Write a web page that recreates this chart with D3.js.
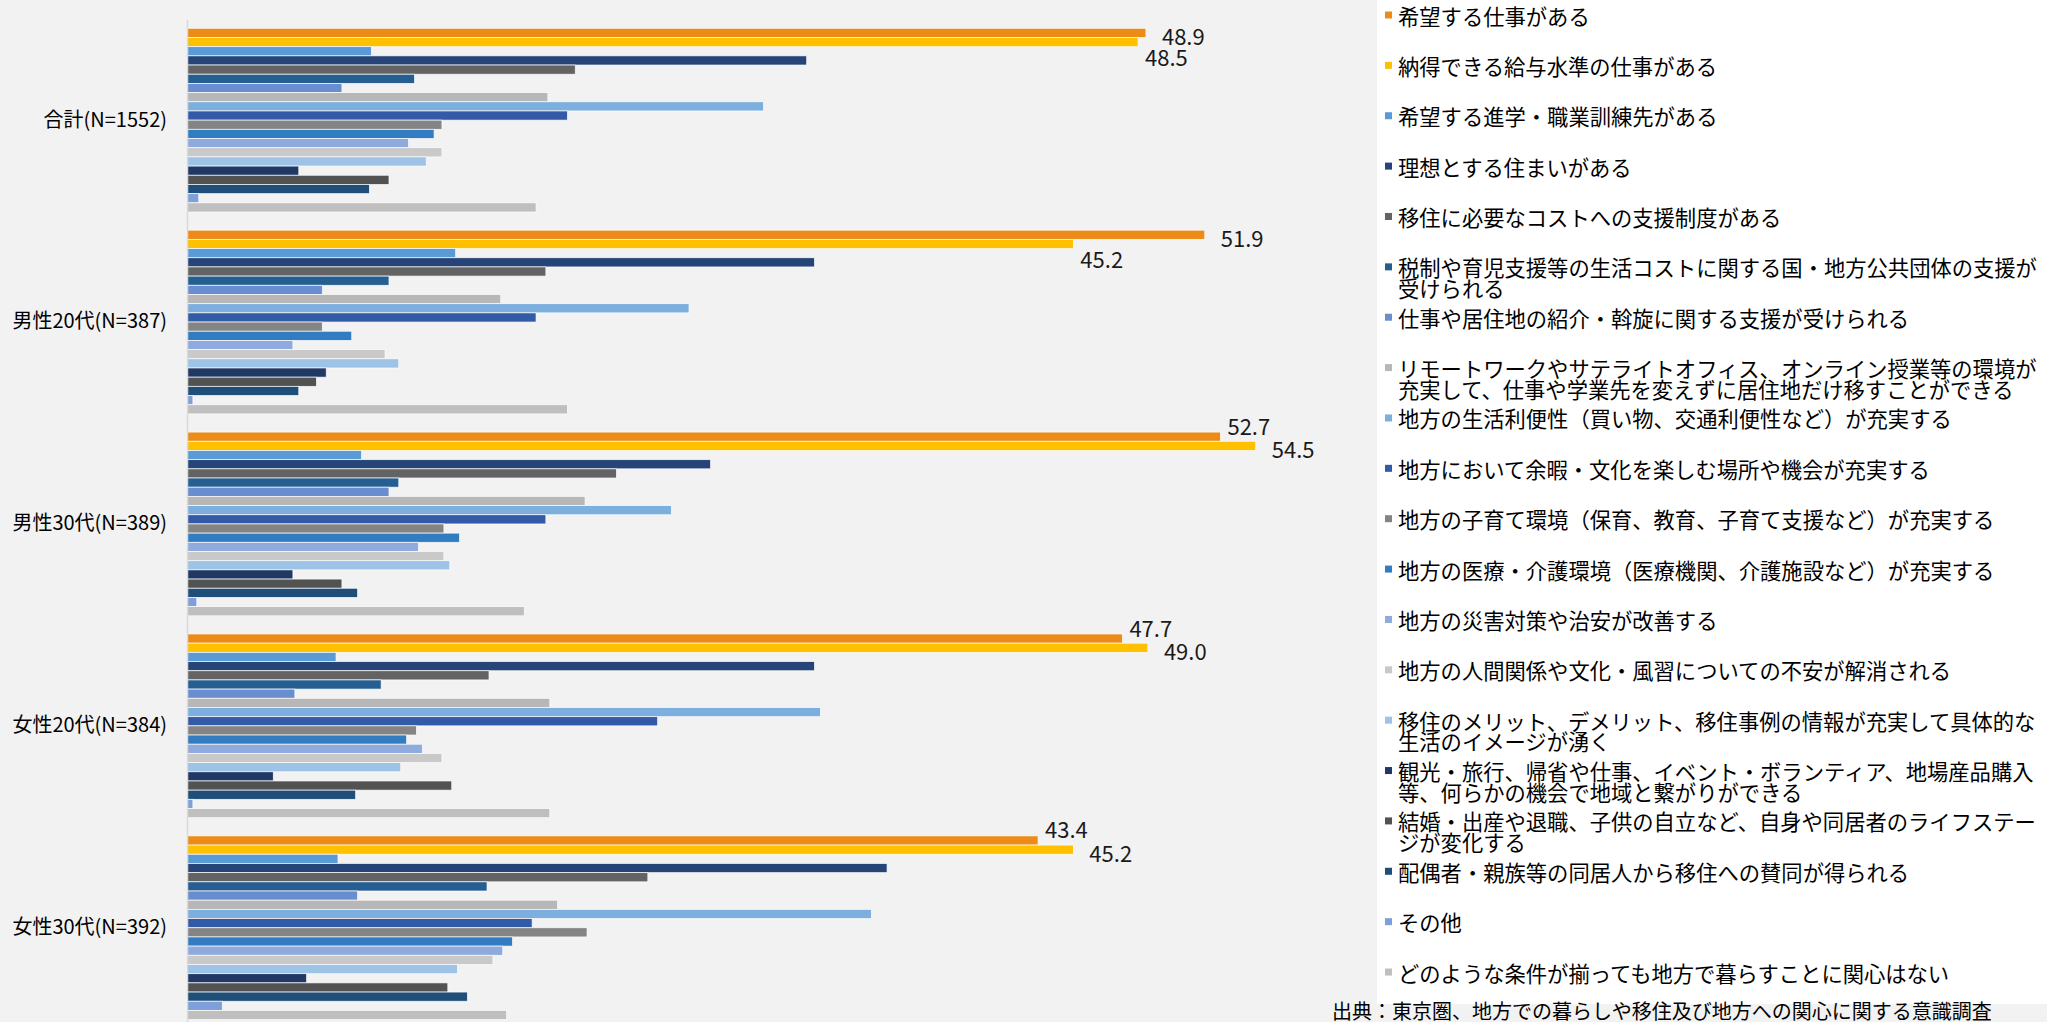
<!DOCTYPE html>
<html>
<head>
<meta charset="utf-8">
<script src="https://cdn.jsdelivr.net/npm/d3@7"></script>
<style>
html,body{margin:0;padding:0;background:#f2f2f2;overflow:hidden}
text{font-family:"Noto Sans CJK JP","Noto Sans",sans-serif}
</style>
</head>
<body>
<svg id="chart" width="2047" height="1022"></svg>
<script>
// categories (groups of bars)
const categories=["合計(N=1552)","男性20代(N=387)","男性30代(N=389)","女性20代(N=384)","女性30代(N=392)"]

// legend entries, line breaks as in the source chart
const seriesNames=[
  "希望する仕事がある",
  "納得できる給与水準の仕事がある",
  "希望する進学・職業訓練先がある",
  "理想とする住まいがある",
  "移住に必要なコストへの支援制度がある",
  "税制や育児支援等の生活コストに関する国・地方公共団体の支援が\n受けられる",
  "仕事や居住地の紹介・斡旋に関する支援が受けられる",
  "リモートワークやサテライトオフィス、オンライン授業等の環境が\n充実して、仕事や学業先を変えずに居住地だけ移すことができる",
  "地方の生活利便性（買い物、交通利便性など）が充実する",
  "地方において余暇・文化を楽しむ場所や機会が充実する",
  "地方の子育て環境（保育、教育、子育て支援など）が充実する",
  "地方の医療・介護環境（医療機関、介護施設など）が充実する",
  "地方の災害対策や治安が改善する",
  "地方の人間関係や文化・風習についての不安が解消される",
  "移住のメリット、デメリット、移住事例の情報が充実して具体的な\n生活のイメージが湧く",
  "観光・旅行、帰省や仕事、イベント・ボランティア、地場産品購入\n等、何らかの機会で地域と繋がりができる",
  "結婚・出産や退職、子供の自立など、自身や同居者のライフステー\nジが変化する",
  "配偶者・親族等の同居人から移住への賛同が得られる",
  "その他",
  "どのような条件が揃っても地方で暮らすことに関心はない"
]
const colors=["#ED8B18","#FFC000","#5B9BD5","#264478","#636363","#255E91","#698ED0","#B7B7B7","#7CAFDD","#335AA6",
              "#848484","#327DC2","#8FAADC","#C9C9C9","#9DC3E6","#203864","#525252","#1F4E79","#7F9FD9","#BFBFBF"]

// values (%) per group, in series order
const total   =[48.9,48.5, 9.4,31.6,19.8,11.6, 7.9,18.4,29.4,19.4,13.0,12.6,11.3,13.0,12.2,5.7,10.3, 9.3,0.6,17.8]
const male20s =[51.9,45.2,13.7,32.0,18.3,10.3, 6.9,16.0,25.6,17.8, 6.9, 8.4, 5.4,10.1,10.8,7.1, 6.6, 5.7,0.3,19.4]
const male30s =[52.7,54.5, 8.9,26.7,21.9,10.8,10.3,20.3,24.7,18.3,13.1,13.9,11.8,13.1,13.4,5.4, 7.9, 8.7,0.5,17.2]
const female20s=[47.7,49.0, 7.6,32.0,15.4, 9.9, 5.5,18.5,32.3,24.0,11.7,11.2,12.0,13.0,10.9,4.4,13.5, 8.6,0.3,18.5]
const female30s=[43.4,45.2, 7.7,35.7,23.5,15.3, 8.7,18.9,34.9,17.6,20.4,16.6,16.1,15.6,13.8,6.1,13.3,14.3,1.8,16.3]
const groupValues=[total,male20s,male30s,female20s,female30s]
const labelledSeries=[0,1]
const sourceText="出典：東京圏、地方での暮らしや移住及び地方への関心に関する意識調査"

const svg=d3.select("#chart")
const width=2047,height=1022

svg.append("rect").attr("width",width).attr("height",height).attr("fill","#f2f2f2")
// legend box
svg.append("rect").attr("x",1377).attr("y",0).attr("width",width-1377).attr("height",1004).attr("fill","#ffffff")

const x=d3.scaleLinear().domain([0,60]).range([187,1363.6])
const y=d3.scaleBand().domain(categories).range([19.2,1028.7]).paddingInner(0.09).paddingOuter(0.045)
const inner=d3.scaleBand().domain(d3.range(seriesNames.length)).range([0,y.bandwidth()])

const rows=categories.flatMap((c,gi)=>groupValues[gi].map((v,si)=>({cat:c,s:si,v:v})))

svg.append("g").selectAll("rect")
  .data(rows)
  .enter()
  .append("rect")
  .attr("x",x(0))
  .attr("y",d=>y(d.cat)+inner(d.s))
  .attr("width",d=>x(d.v)-x(0))
  .attr("height",inner.bandwidth())
  .attr("fill",d=>colors[d.s])
  .attr("stroke","#ffffff")
  .attr("stroke-width",0.8)
  .attr("stroke-opacity",0.85)

// category axis
const yaxis=d3.axisLeft(y).tickSize(0).tickPadding(20)
const ag=svg.append("g").attr("transform",`translate(${x(0)},0)`).call(yaxis)
ag.select(".domain").attr("stroke","#d9d9d9").attr("stroke-width",1.5)
ag.selectAll("text").attr("font-size",20).attr("fill","#000")
  .style("font-family",'"Noto Sans CJK JP",sans-serif')

// data labels on the first two series; the shorter bar's label is pushed away
const labels=[]
categories.forEach((c,gi)=>{
  const a=groupValues[gi][0],b=groupValues[gi][1]
  labelledSeries.forEach(si=>{
    const v=groupValues[gi][si]
    const longer=(si===0)?a>=b:b>a
    let dy,dx
    if(longer){dy=2;dx=16}
    else{dy=si===0?-12:14;dx=7}
    labels.push({cat:c,s:si,v:v,dx:dx,dy:dy})
  })
})
svg.append("g").selectAll("text")
  .data(labels)
  .enter()
  .append("text")
  .attr("x",d=>x(d.v)+d.dx)
  .attr("y",d=>y(d.cat)+inner(d.s)+inner.bandwidth()/2+d.dy)
  .attr("dominant-baseline","central")
  .attr("font-size",22)
  .attr("fill","#1a1a1a")
  .text(d=>d3.format(".1f")(d.v))

// legend
const legStep=50.37
const leg=svg.append("g").selectAll("g")
  .data(seriesNames)
  .enter()
  .append("g")
  .attr("transform",(d,i)=>`translate(1385,${15+i*legStep})`)
leg.append("rect")
  .attr("x",0).attr("y",-3.5)
  .attr("width",7).attr("height",7)
  .attr("fill",(d,i)=>colors[i])
leg.append("text")
  .attr("x",13)
  .attr("font-size",21.3)
  .attr("fill","#000")
  .selectAll("tspan")
  .data(d=>d.split("\n"))
  .enter()
  .append("tspan")
  .attr("x",13)
  .attr("y",(d,i)=>i*20.5)
  .attr("dominant-baseline","central")
  .text(d=>d)

svg.append("text")
  .attr("x",1332)
  .attr("y",1019)
  .attr("font-size",20)
  .attr("fill","#000")
  .text(sourceText)
</script>
</body>
</html>
